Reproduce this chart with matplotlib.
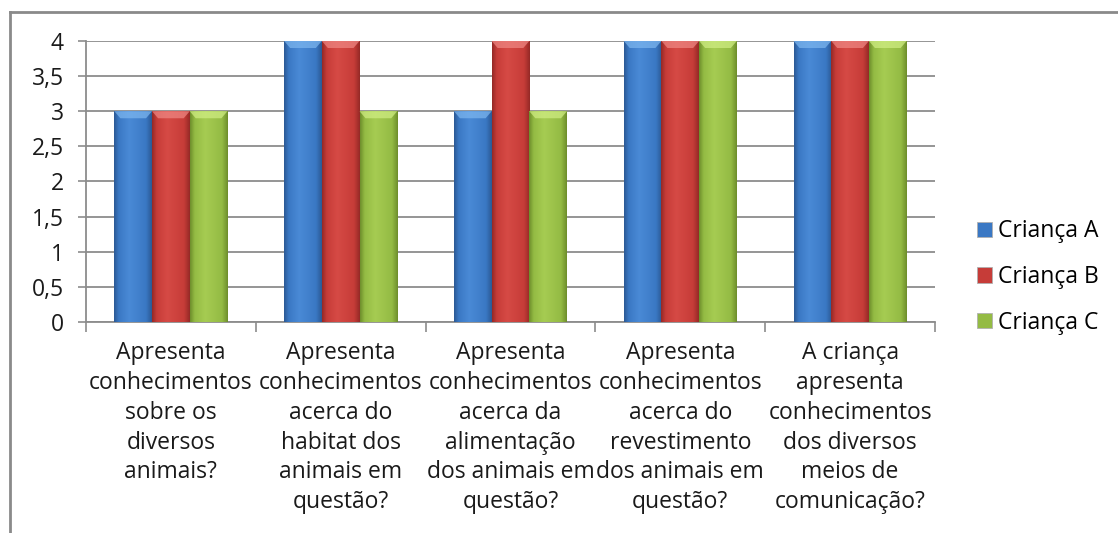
import numpy as np
import matplotlib
matplotlib.use("Agg")
import matplotlib.pyplot as plt
from matplotlib.colors import LinearSegmentedColormap
from matplotlib.patches import Polygon, Patch
from matplotlib.lines import Line2D

plt.rcParams["font.family"] = ["Open Sans", "DejaVu Sans"]

categories = [
    "Apresenta\nconhecimentos\nsobre os\ndiversos\nanimais?",
    "Apresenta\nconhecimentos\nacerca do\nhabitat dos\nanimais em\nquestão?",
    "Apresenta\nconhecimentos\nacerca da\nalimentação\ndos animais em\nquestão?",
    "Apresenta\nconhecimentos\nacerca do\nrevestimento\ndos animais em\nquestão?",
    "A criança\napresenta\nconhecimentos\ndos diversos\nmeios de\ncomunicação?",
]
series_names = ["Criança A", "Criança B", "Criança C"]
crianca_a = [3, 4, 3, 4, 4]
crianca_b = [3, 4, 4, 4, 4]
crianca_c = [3, 3, 3, 4, 4]
y_ticks = [0, 0.5, 1, 1.5, 2, 2.5, 3, 3.5, 4]
y_labels = ["0", "0,5", "1", "1,5", "2", "2,5", "3", "3,5", "4"]

# dark edge, base, light centre, top bevel
palette = [
    ("#2c5a96", "#3a78c4", "#4a8ad6", "#7fb8f0"),
    ("#962a27", "#c63c38", "#d64a45", "#f08a86"),
    ("#6f8f2c", "#94bb44", "#a6cc52", "#d2ef86"),
]

FS = 16.5

fig = plt.figure(figsize=(11.18, 5.33), dpi=100)
ax = fig.add_axes([0.0769, 0.3959, 0.7594, 0.5272])

x = np.arange(len(categories))
width = 0.222
values = [crianca_a, crianca_b, crianca_c]

grad = np.linspace(0, 1, 64).reshape(1, -1)
for i, (vals, cols) in enumerate(zip(values, palette)):
    dark, base, light, top = cols
    cmap = LinearSegmentedColormap.from_list(
        f"s{i}", [(0, dark), (0.12, base), (0.4, light), (0.85, base), (1, dark)]
    )
    bars = ax.bar(x + (i - 1) * width, vals, width, color=base,
                  edgecolor="none", zorder=3)
    for b in bars:
        x0, w, h = b.get_x(), b.get_width(), b.get_height()
        im = ax.imshow(grad, cmap=cmap, aspect="auto",
                       extent=(x0, x0 + w, 0, h), zorder=3)
        im.set_clip_path(b)
        dx = w * 0.16
        dy = 0.1
        ax.add_patch(Polygon(
            [(x0, h), (x0 + w, h), (x0 + w - dx, h - dy), (x0 + dx, h - dy)],
            closed=True, facecolor=top, edgecolor="none", alpha=0.7, zorder=4))

ax.set_xlim(-0.5, len(categories) - 0.5)
ax.set_ylim(0, 4)

ax.set_yticks(y_ticks)
ax.set_yticklabels(y_labels, fontsize=FS, color="#1a1a1a")
ax.yaxis.grid(True, color="#8c8c8c", linewidth=1.3, zorder=0)
ax.set_axisbelow(True)

ax.set_xticks(x)
ax.set_xticklabels(categories, fontsize=FS, color="#1a1a1a",
                   linespacing=1.32)
ax.set_xticks(np.arange(len(categories) + 1) - 0.5, minor=True)
ax.tick_params(axis="x", which="major", length=0, pad=14)
ax.tick_params(axis="x", which="minor", length=7, width=1.2, color="#8c8c8c")
ax.tick_params(axis="y", length=6, width=1.2, color="#8c8c8c", pad=10)

for s in ["top", "right"]:
    ax.spines[s].set_visible(False)
for s in ["left", "bottom"]:
    ax.spines[s].set_color("#8c8c8c")
    ax.spines[s].set_linewidth(1.3)

handles = [Patch(facecolor=c[1], edgecolor="#b0b0b0", linewidth=0.6)
           for c in palette]
ax.legend(handles, series_names, loc="center left",
          bbox_to_anchor=(1.05, 0.16), frameon=False, fontsize=FS,
          handlelength=0.65, handleheight=0.65, handletextpad=0.25,
          labelspacing=0.95, borderaxespad=0, borderpad=0)

# outer chart border (top and left edges visible)
fig.add_artist(Line2D([10 / 1118, 1], [1 - 12 / 533, 1 - 12 / 533],
                      transform=fig.transFigure, color="#8a8a8a", linewidth=2))
fig.add_artist(Line2D([10 / 1118, 10 / 1118], [0, 1 - 12 / 533],
                      transform=fig.transFigure, color="#8a8a8a", linewidth=2))

fig.savefig("out.png", dpi=100, facecolor="white")
